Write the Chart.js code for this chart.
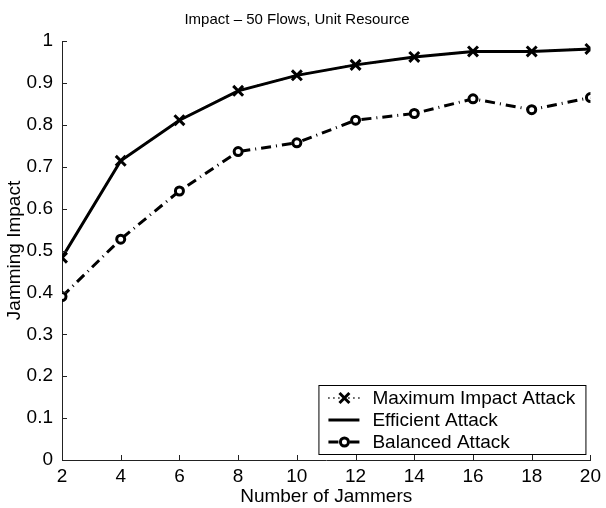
<!DOCTYPE html>
<html>
<head>
<meta charset="utf-8">
<script src="https://cdn.jsdelivr.net/npm/chart.js@4.4.1/dist/chart.umd.min.js"></script>
<style>
  html, body { margin: 0; padding: 0; background: #fff; }
  #wrap { width: 606px; height: 508px; }
</style>
</head>
<body>
<div id="wrap"><canvas id="c" width="606" height="508"></canvas></div>
<script>
// 데이터
const jammers = [2, 4, 6, 8, 10, 12, 14, 16, 18, 20];
const maxImpact = [0.483, 0.714, 0.811, 0.881, 0.918, 0.943, 0.962, 0.975, 0.975, 0.981];
const efficient = [0.483, 0.714, 0.811, 0.881, 0.918, 0.943, 0.962, 0.975, 0.975, 0.981];
const balanced = [0.390, 0.527, 0.642, 0.736, 0.757, 0.811, 0.827, 0.862, 0.836, 0.865];
const yTicks = [0, 0.1, 0.2, 0.3, 0.4, 0.5, 0.6, 0.7, 0.8, 0.9, 1];

const FONT = '"Liberation Sans", Arial, Helvetica, sans-serif';
const AXIS_COLOR = '#222';

const toPoints = vals => vals.map((v, i) => ({ x: jammers[i], y: v }));

// MATLAB 스타일: 안쪽으로 향하는 눈금
const innerTicks = {
  id: 'innerTicks',
  afterDraw(chart) {
    const { ctx, chartArea } = chart;
    const xs = chart.scales.x, ys = chart.scales.y;
    ctx.save();
    ctx.strokeStyle = AXIS_COLOR;
    ctx.lineWidth = 1;
    ctx.beginPath();
    xs.ticks.forEach(t => {
      const px = Math.round(xs.getPixelForValue(t.value)) + 0.5;
      ctx.moveTo(px, chartArea.bottom);
      ctx.lineTo(px, chartArea.bottom - 5);
    });
    ys.ticks.forEach(t => {
      const py = Math.round(ys.getPixelForValue(t.value)) + 0.5;
      ctx.moveTo(chartArea.left, py);
      ctx.lineTo(chartArea.left + 5, py);
    });
    ctx.stroke();
    ctx.restore();
  }
};

// 오른쪽 아래 범례 상자
const boxLegend = {
  id: 'boxLegend',
  afterDraw(chart) {
    const { ctx, chartArea } = chart;
    const w = 267, h = 69;
    const x0 = chartArea.right - 5 - w;
    const y0 = chartArea.bottom - 6 - h;
    ctx.save();
    ctx.fillStyle = '#fff';
    ctx.fillRect(x0, y0, w, h);
    ctx.strokeStyle = '#000';
    ctx.lineWidth = 1;
    ctx.strokeRect(x0 + 0.5, y0 + 0.5, w, h);
    ctx.font = '19px ' + FONT;
    ctx.textBaseline = 'middle';
    chart.data.datasets.forEach((ds, i) => {
      const cy = y0 + 13 + i * 22;
      ctx.save();
      ctx.strokeStyle = ds.borderColor;
      ctx.lineWidth = ds.borderWidth;
      ctx.setLineDash(ds.borderDash || []);
      ctx.beginPath();
      ctx.moveTo(x0 + 10, cy);
      ctx.lineTo(x0 + 41, cy);
      ctx.stroke();
      ctx.restore();
      if (ds.pointRadius > 0) {
        ctx.save();
        ctx.fillStyle = ds.pointBackgroundColor;
        ctx.strokeStyle = ds.pointBorderColor;
        ctx.lineWidth = ds.pointBorderWidth;
        Chart.helpers.drawPoint(ctx, {
          pointStyle: ds.pointStyle,
          radius: ds.pointRadius,
          borderWidth: ds.pointBorderWidth,
          rotation: 0
        }, x0 + 26, cy);
        ctx.restore();
      }
      ctx.fillStyle = '#000';
      ctx.fillText(ds.label, x0 + 54, cy + 1);
    });
    ctx.restore();
  }
};

const ctx = document.getElementById('c').getContext('2d');
new Chart(ctx, {
  type: 'line',
  data: {
    datasets: [
      {
        label: 'Maximum Impact Attack',
        data: toPoints(maxImpact),
        borderColor: '#000',
        borderWidth: 2,
        borderDash: [1, 4],
        pointStyle: 'crossRot',
        pointRadius: 7,
        pointBorderWidth: 3,
        pointBorderColor: '#000',
        pointBackgroundColor: '#000',
        tension: 0
      },
      {
        label: 'Efficient Attack',
        data: toPoints(efficient),
        borderColor: '#000',
        borderWidth: 3,
        pointRadius: 0,
        pointBorderWidth: 0,
        tension: 0
      },
      {
        label: 'Balanced Attack',
        data: toPoints(balanced),
        borderColor: '#000',
        borderWidth: 3,
        borderDash: [10, 5, 1, 5],
        pointStyle: 'circle',
        pointRadius: 4,
        pointBorderWidth: 3,
        pointBorderColor: '#000',
        pointBackgroundColor: '#fff',
        tension: 0
      }
    ]
  },
  options: {
    responsive: false,
    animation: false,
    layout: { padding: { left: 0, right: 12, top: 0, bottom: 0 } },
    plugins: {
      legend: { display: false },
      tooltip: { enabled: false },
      title: {
        display: true,
        text: 'Impact \u2013 50 Flows, Unit Resource',
        color: '#000',
        font: { family: FONT, size: 15, weight: 'normal' },
        padding: { top: 11, bottom: 12 }
      }
    },
    scales: {
      x: {
        type: 'linear',
        min: 2,
        max: 20,
        ticks: {
          stepSize: 2,
          color: '#000',
          padding: 5,
          font: { family: FONT, size: 19 },
          maxRotation: 0
        },
        grid: { display: false, drawTicks: false },
        border: { display: true, color: AXIS_COLOR, width: 1 },
        title: {
          display: true,
          text: 'Number of Jammers',
          color: '#000',
          font: { family: FONT, size: 19 },
          padding: { top: 0, bottom: 0 }
        },
        afterFit(s) { s.height = 48; }
      },
      y: {
        type: 'linear',
        min: 0,
        max: 1,
        afterBuildTicks(s) { s.ticks = yTicks.map(v => ({ value: v })); },
        ticks: {
          color: '#000',
          padding: 9,
          font: { family: FONT, size: 19 },
          callback: v => String(v)
        },
        grid: { display: false, drawTicks: false },
        border: { display: true, color: AXIS_COLOR, width: 1 },
        title: {
          display: true,
          text: 'Jamming Impact',
          color: '#000',
          font: { family: FONT, size: 19 },
          padding: { top: 3, bottom: 0 }
        },
        afterFit(s) { s.width = 62; }
      }
    }
  },
  plugins: [innerTicks, boxLegend]
});
</script>
</body>
</html>
